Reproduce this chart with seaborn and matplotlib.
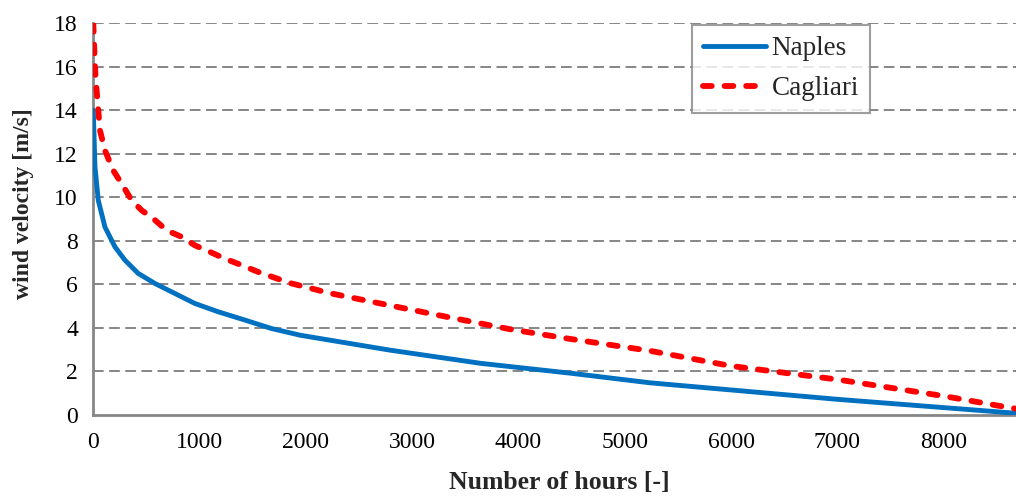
import numpy as np
import pandas as pd
import matplotlib
matplotlib.use("Agg")
import matplotlib.pyplot as plt
import seaborn as sns

# Wind velocity duration curves (hours sorted by descending velocity)
hours_naples = [0, 16, 47, 110, 204, 298, 423, 580, 768, 956, 1175, 1426, 1677,
                1950, 2789, 3648, 4507, 5233, 6000, 7000, 8000, 8680, 8760]
naples = [14.0, 11.4, 9.86, 8.63, 7.72, 7.11, 6.5, 6.04, 5.58, 5.12, 4.74, 4.36, 3.97,
          3.66, 2.98, 2.37, 1.91, 1.48, 1.15, 0.72, 0.34, 0.08, 0.05]

hours_cagliari = [0, 8, 16, 25, 47, 63, 110, 188, 267, 361, 455, 564, 690, 831, 956,
                  1097, 1238, 1395, 1551, 1708, 1865, 2053, 2209, 2883, 3353, 3931,
                  4451, 5233, 6000, 7000, 8000, 8650, 8760]
cagliari = [18.0, 17.0, 16.0, 15.3, 14.0, 13.07, 12.15, 11.23, 10.62, 9.86, 9.4, 9.02,
            8.48, 8.18, 7.79, 7.49, 7.18, 6.88, 6.57, 6.3, 6.04, 5.81, 5.61, 4.94,
            4.48, 3.93, 3.52, 2.95, 2.25, 1.63, 0.87, 0.31, 0.24]

x_ticks = [0, 1000, 2000, 3000, 4000, 5000, 6000, 7000, 8000]
y_ticks = [0, 2, 4, 6, 8, 10, 12, 14, 16, 18]

df_n = pd.DataFrame({"hours": hours_naples, "v": naples})
df_c = pd.DataFrame({"hours": hours_cagliari, "v": cagliari})

sns.set_style("white")
plt.rcParams["font.family"] = ["Liberation Serif", "DejaVu Serif"]

fig = plt.figure(figsize=(10.16, 4.96), dpi=100)
ax = fig.add_axes([0.0918, 0.1633, 0.9082, 0.7903])

grey = "#868686"
for yv in y_ticks[1:]:
    ax.axhline(yv, color=grey, lw=1.4, ls=(0, (5.5, 2.8)), zorder=1)

sns.lineplot(data=df_n, x="hours", y="v", ax=ax, color="#0070C0", lw=3.5,
             label="Naples", zorder=3)
sns.lineplot(data=df_c, x="hours", y="v", ax=ax, color="#FF0000", lw=4.2,
             label="Cagliari", zorder=4)
red_line = ax.get_lines()[-1]
red_line.set_dashes([1.5, 2.2])
red_line.set_dash_capstyle("round")

ax.set_xlim(0, 8680)
ax.set_ylim(0, 18)
ax.set_xticks(x_ticks)
ax.set_yticks(y_ticks)
ax.tick_params(axis="both", labelsize=17, labelcolor="black", length=7, width=1.5,
               direction="out", color=grey)
ax.tick_params(axis="x", pad=5)
ax.tick_params(axis="y", pad=4)

for side in ["top", "right"]:
    ax.spines[side].set_visible(False)
for side in ["left", "bottom"]:
    ax.spines[side].set_color(grey)
    ax.spines[side].set_linewidth(2)
    ax.spines[side].set_zorder(2)

ax.set_xlabel("Number of hours [-]", fontsize=18.5, fontweight="bold")
ax.set_ylabel("wind velocity [m/s]", fontsize=17, fontweight="bold")
ax.xaxis.set_label_coords(0.505, -0.171)
ax.yaxis.set_label_coords(-0.076, 0.538)
ax.xaxis.label.set_va("center")
ax.yaxis.label.set_va("center")

leg = ax.legend(loc="upper left", bbox_to_anchor=(0.649, 0.995), borderaxespad=0,
                fontsize=19.5, frameon=True, fancybox=False, handlelength=2.3,
                handletextpad=0.22, borderpad=0.42, labelspacing=0.55)
leg.get_frame().set_edgecolor(grey)
leg.get_frame().set_linewidth(1.5)
leg_lines = leg.get_lines()
leg_lines[1].set_dashes([1.5, 2.2])
leg_lines[1].set_dash_capstyle("round")
leg_lines[0].set_solid_capstyle("round")

fig.savefig("out.png", dpi=100)
